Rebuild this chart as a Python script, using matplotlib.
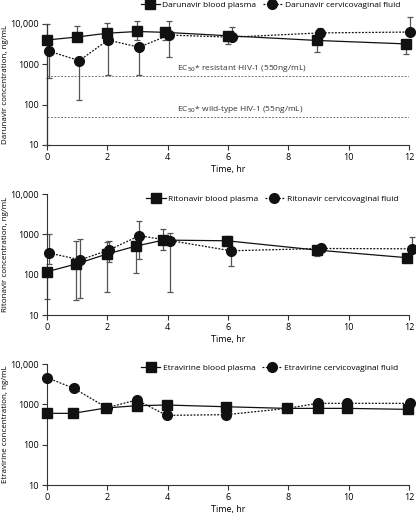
import matplotlib
matplotlib.use("Agg")
import matplotlib.pyplot as plt
from matplotlib.ticker import FixedLocator, FixedFormatter, NullLocator

plt.rcParams['font.family'] = ['Open Sans', 'DejaVu Sans']
plt.rcParams['font.size'] = 6.5

# Darunavir
drv_plasma_t = [0, 1, 2, 3, 3.9, 6, 8.95, 11.9]
drv_plasma = [4000, 4750, 5900, 6500, 6200, 5100, 3900, 3200]
drv_plasma_lo = [10, 4750, 5900, 4000, 4000, 3190, 2060, 1840]
drv_plasma_hi = [10000, 8900, 10500, 12000, 6200, 5100, 3900, 3200]
drv_cvf_t = [0.08, 1.07, 2.02, 3.05, 4.05, 6.12, 9.05, 12.05]
drv_cvf = [2100, 1230, 4000, 2650, 5300, 4700, 6000, 6300]
drv_cvf_lo = [445, 130, 543, 543, 1490, 4700, 6000, 6300]
drv_cvf_hi = [2100, 1230, 4000, 2650, 11800, 8280, 7820, 14650]

# Ritonavir
rtv_plasma_t = [0, 0.96, 1.98, 2.95, 3.86, 5.97, 8.94, 11.93]
rtv_plasma = [119, 184, 325, 513, 724, 695, 410, 265]
rtv_plasma_lo = [25, 23, 38, 112, 410, 695, 290, 265]
rtv_plasma_hi = [119, 695, 650, 513, 1350, 910, 410, 265]
rtv_cvf_t = [0.08, 1.1, 2.04, 3.06, 4.07, 6.1, 9.07, 12.1]
rtv_cvf = [344, 234, 407, 927, 706, 393, 448, 440]
rtv_cvf_lo = [181, 26, 204, 240, 38, 164, 448, 440]
rtv_cvf_hi = [1020, 767, 690, 2140, 1100, 393, 575, 843]

# Etravirine (no error bars)
etr_plasma_t = [0, 0.86, 1.95, 2.97, 3.97, 5.94, 7.96, 8.97, 9.96, 11.97]
etr_plasma = [598, 598, 811, 927, 962, 872, 794, 794, 794, 751]
etr_cvf_t = [0, 0.89, 1.98, 2.97, 3.97, 5.95, 7.96, 8.97, 9.96, 12.03]
etr_cvf = [4580, 2500, 826, 1280, 533, 555, 794, 1060, 1060, 1060]

ec50_resistant = 500
ec50_wild = 50

x_ticks = [0, 2, 4, 6, 8, 10, 12]
y_ticks = [10, 100, 1000, 10000]
y_labels = ['10', '100', '1000', '10,000']

fig = plt.figure(figsize=(4.16, 5.14), dpi=100)
bottoms = [0.718, 0.387, 0.0564]
axes = [fig.add_axes([0.113, b, 0.870, 0.2354]) for b in bottoms]

err_col = '#555555'


def draw(ax, drug, pt, py, ct, cy, plo=None, phi=None, clo=None, chi=None):
    if plo is not None:
        ax.errorbar(pt, py, yerr=[[y - l for y, l in zip(py, plo)], [h - y for y, h in zip(py, phi)]],
                    fmt='none', ecolor=err_col, elinewidth=0.9, capsize=2.5, capthick=0.9,
                    clip_on=False, zorder=2)
        ax.errorbar(ct, cy, yerr=[[y - l for y, l in zip(cy, clo)], [h - y for y, h in zip(cy, chi)]],
                    fmt='none', ecolor=err_col, elinewidth=0.9, capsize=2.5, capthick=0.9,
                    clip_on=False, zorder=2)
    ax.plot(pt, py, '-', color='#111111', lw=0.9, marker='s', ms=6.5,
            label=drug + ' blood plasma', clip_on=False, zorder=4)
    ax.plot(ct, cy, linestyle=(0, (1.5, 1.2)), color='#111111', lw=0.9, marker='o', ms=7,
            label=drug + ' cervicovaginal fluid', clip_on=False, zorder=5)
    ax.set_yscale('log')
    ax.set_ylim(10, 10000)
    ax.set_xlim(0, 12)
    ax.yaxis.set_major_locator(FixedLocator(y_ticks))
    ax.yaxis.set_major_formatter(FixedFormatter(y_labels))
    ax.yaxis.set_minor_locator(NullLocator())
    ax.set_xticks(x_ticks)
    for s in ['top', 'right']:
        ax.spines[s].set_visible(False)
    for s in ['left', 'bottom']:
        ax.spines[s].set_color('#333333')
        ax.spines[s].set_linewidth(0.8)
    ax.tick_params(direction='out', length=3.5, width=0.8, color='#333333', pad=2.5, labelsize=6.5)
    ax.set_xlabel('Time, hr', labelpad=2)
    ax.set_ylabel(drug + ' concentration, ng/mL', fontsize=5.8)
    ax.yaxis.set_label_coords(-0.105, 0.5)


draw(axes[0], 'Darunavir', drv_plasma_t, drv_plasma, drv_cvf_t, drv_cvf,
     drv_plasma_lo, drv_plasma_hi, drv_cvf_lo, drv_cvf_hi)
draw(axes[1], 'Ritonavir', rtv_plasma_t, rtv_plasma, rtv_cvf_t, rtv_cvf,
     rtv_plasma_lo, rtv_plasma_hi, rtv_cvf_lo, rtv_cvf_hi)
draw(axes[2], 'Etravirine', etr_plasma_t, etr_plasma, etr_cvf_t, etr_cvf)

# EC50 reference lines
ax = axes[0]
for v in [ec50_resistant, ec50_wild]:
    ax.axhline(v, color='#777777', lw=0.7, linestyle=(0, (2, 1.5)), zorder=1)
ax.text(4.3, ec50_resistant * 1.12, 'EC$_{50}$* resistant HIV-1 (550ng/mL)', fontsize=6,
        color='#333333', va='bottom', ha='left')
ax.text(4.3, ec50_wild * 1.12, 'EC$_{50}$* wild-type HIV-1 (55ng/mL)', fontsize=6,
        color='#333333', va='bottom', ha='left')

legend_pos = [(0.975, 1.157), (0.97, 0.956), (0.97, 0.97)]
for ax, pos in zip(axes, legend_pos):
    ax.legend(loc='center right', bbox_to_anchor=pos, ncol=2, frameon=False, fontsize=6,
              handlelength=2.3, handletextpad=0.3, columnspacing=0.8, borderaxespad=0,
              borderpad=0)

fig.savefig('out.png', dpi=100)
